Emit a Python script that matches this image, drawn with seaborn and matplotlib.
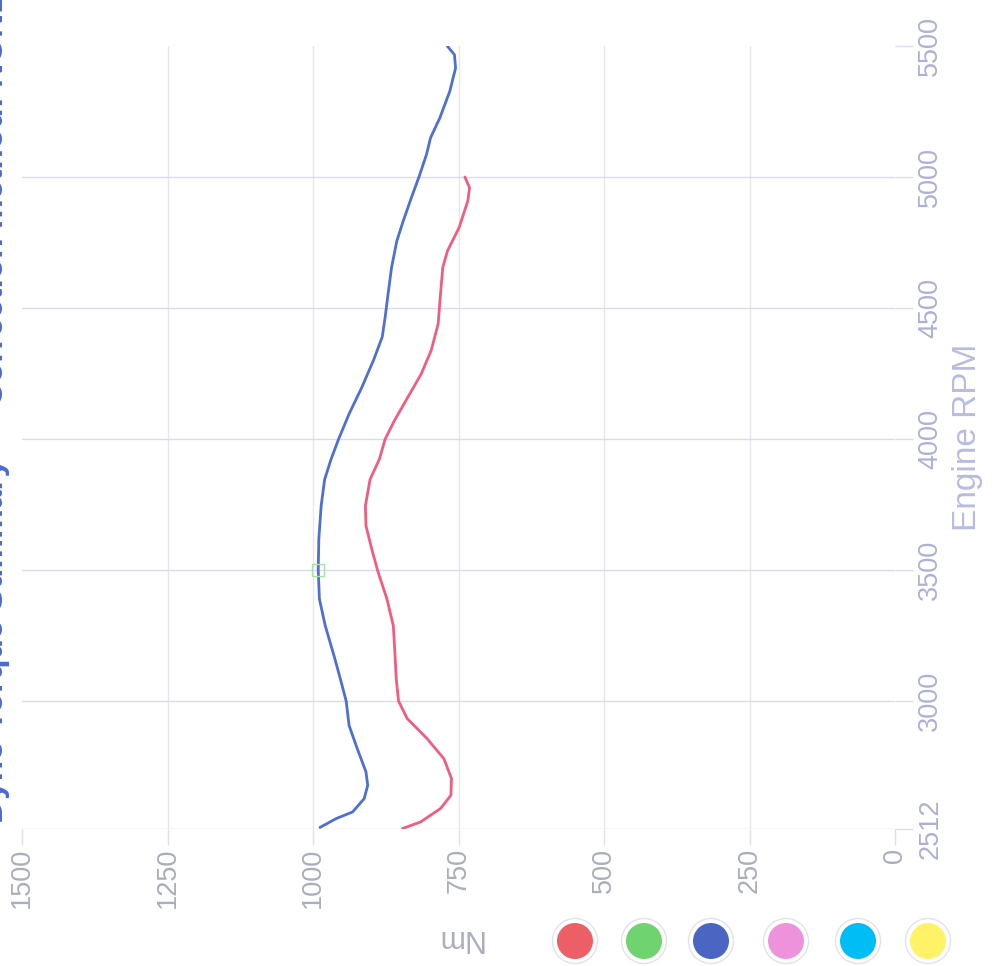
import matplotlib
matplotlib.use("Agg")
import matplotlib.pyplot as plt
import matplotlib.patches as mpatches
import seaborn as sns
import pandas as pd

# ---------------- data ----------------
rpm_ticks = [2512, 3000, 3500, 4000, 4500, 5000, 5500]
nm_ticks = [0, 250, 500, 750, 1000, 1250, 1500]

rpm_blue = [2518, 2552, 2577, 2628, 2679, 2730, 2819, 2907, 3000, 3085, 3174,
            3288, 3390, 3500, 3618, 3745, 3846, 3923, 4000, 4096, 4198, 4301,
            4390, 4466, 4554, 4655, 4756, 4832, 4921, 5000, 5086, 5150, 5226,
            5327, 5416, 5467, 5499]
nm_blue = [988, 960, 932, 912, 906, 909, 924, 938, 943, 953, 964,
           979, 989, 991, 990, 986, 980, 969, 956, 938, 916, 896,
           881, 876, 871, 865, 856, 845, 831, 818, 805, 798, 782,
           765, 755, 757, 769]

rpm_red = [2514, 2539, 2590, 2641, 2704, 2780, 2857, 2933, 3000, 3085, 3174,
           3288, 3390, 3491, 3580, 3669, 3745, 3846, 3923, 4000, 4071, 4160,
           4249, 4338, 4439, 4553, 4655, 4718, 4807, 4909, 4959, 5000]
nm_red = [846, 815, 781, 763, 762, 775, 804, 838, 853, 857, 859,
          862, 873, 888, 899, 909, 910, 902, 886, 876, 860, 837,
          814, 797, 785, 781, 777, 769, 749, 734, 731, 739]

legend_colors = ["#ec5f66", "#6fd36f", "#4b66c2", "#ef92dc", "#00bdf6", "#fff266"]

title_text = "Dyno Torque Summary \u2014 Correction method: NONE"
x_label = "Engine RPM"
y_label = "Nm"

# ---------------- figure ----------------
sns.set_theme(style="white")
plt.rcParams["font.family"] = ["Liberation Sans", "DejaVu Sans"]

W, H = 1002, 966
fig = plt.figure(figsize=(W / 100, H / 100), dpi=100)
fig.patch.set_facecolor("white")
ax = fig.add_axes([22 / W, 1 - 829 / H, 873 / W, 783 / H])
ax.set_facecolor("white")

df_blue = pd.DataFrame({"rpm": rpm_blue, "nm": nm_blue})
df_red = pd.DataFrame({"rpm": rpm_red, "nm": nm_red})
sns.lineplot(data=df_blue, x="nm", y="rpm", orient="y", color="#4d70d2",
             linewidth=2.0, ax=ax, solid_joinstyle="round", solid_capstyle="round")
sns.lineplot(data=df_red, x="nm", y="rpm", orient="y", color="#f25c80",
             linewidth=2.0, ax=ax, solid_joinstyle="round", solid_capstyle="round")

# hover marker on the blue series at 3500 rpm
ax.plot([nm_blue[rpm_blue.index(3500)]], [3500], marker="s", mfc="none",
        mec="#a8e0a8", ms=8, mew=1, ls="none")

ax.set_xlim(1500, 0)
ax.set_ylim(2512, 5500)
ax.set_xticks(nm_ticks)
ax.set_xticklabels([str(v) for v in nm_ticks])
ax.set_yticks(rpm_ticks)
ax.set_yticklabels([str(v) for v in rpm_ticks])
ax.yaxis.tick_right()
ax.yaxis.set_label_position("right")

for s in ax.spines.values():
    s.set_visible(False)

ax.tick_params(axis="x", bottom=True, length=11.5, width=1, color="#e0e0e8",
               pad=2, labelsize=19.5, labelcolor="#a8aebc", labelrotation=90)
ax.tick_params(axis="y", right=True, left=False, length=13, width=1,
               color="#dcdcee", pad=3, labelsize=19.5, labelcolor="#adb1d8",
               labelrotation=90)
for lab in ax.get_yticklabels():
    lab.set_va("center")

ax.grid(True, axis="x", color="#e6e6ef", linewidth=1)
ax.grid(True, axis="y", color="#d9d9f0", linewidth=1)
for tick_val, gl in zip(nm_ticks, ax.get_xgridlines()):
    if tick_val in (0, 1500):
        gl.set_visible(False)
for tick_val, gl in zip(rpm_ticks, ax.get_ygridlines()):
    if tick_val == 5500:
        gl.set_visible(False)

ax.set_xlabel("")
ax.set_ylabel(x_label, fontsize=24, color="#b8bce0", rotation=90, labelpad=6)

# y-axis title (Nm), shown upside down
fig.text(459 / W, 1 - 938 / H, y_label, fontsize=22, color="#aab0c0",
         rotation=180, ha="center", va="center")

# title, mostly beyond the left edge as in the reference
fig.text(3 / W, 1.01, title_text, fontsize=24, fontweight="bold",
         color="#4a6ad0", rotation=90, rotation_mode="anchor",
         ha="right", va="baseline")

# legend circles
centers_x = [575, 644, 711, 786, 858, 928]
cy = 941
for cx, col in zip(centers_x, legend_colors):
    ring = mpatches.Ellipse((cx / W, 1 - cy / H), 45 / W, 45 / H,
                            transform=fig.transFigure, facecolor="white",
                            edgecolor="#e2e2ea", linewidth=1)
    disk = mpatches.Ellipse((cx / W, 1 - cy / H), 36 / W, 36 / H,
                            transform=fig.transFigure, facecolor=col,
                            edgecolor="none")
    fig.add_artist(ring)
    fig.add_artist(disk)

fig.savefig("out.png", dpi=100)
